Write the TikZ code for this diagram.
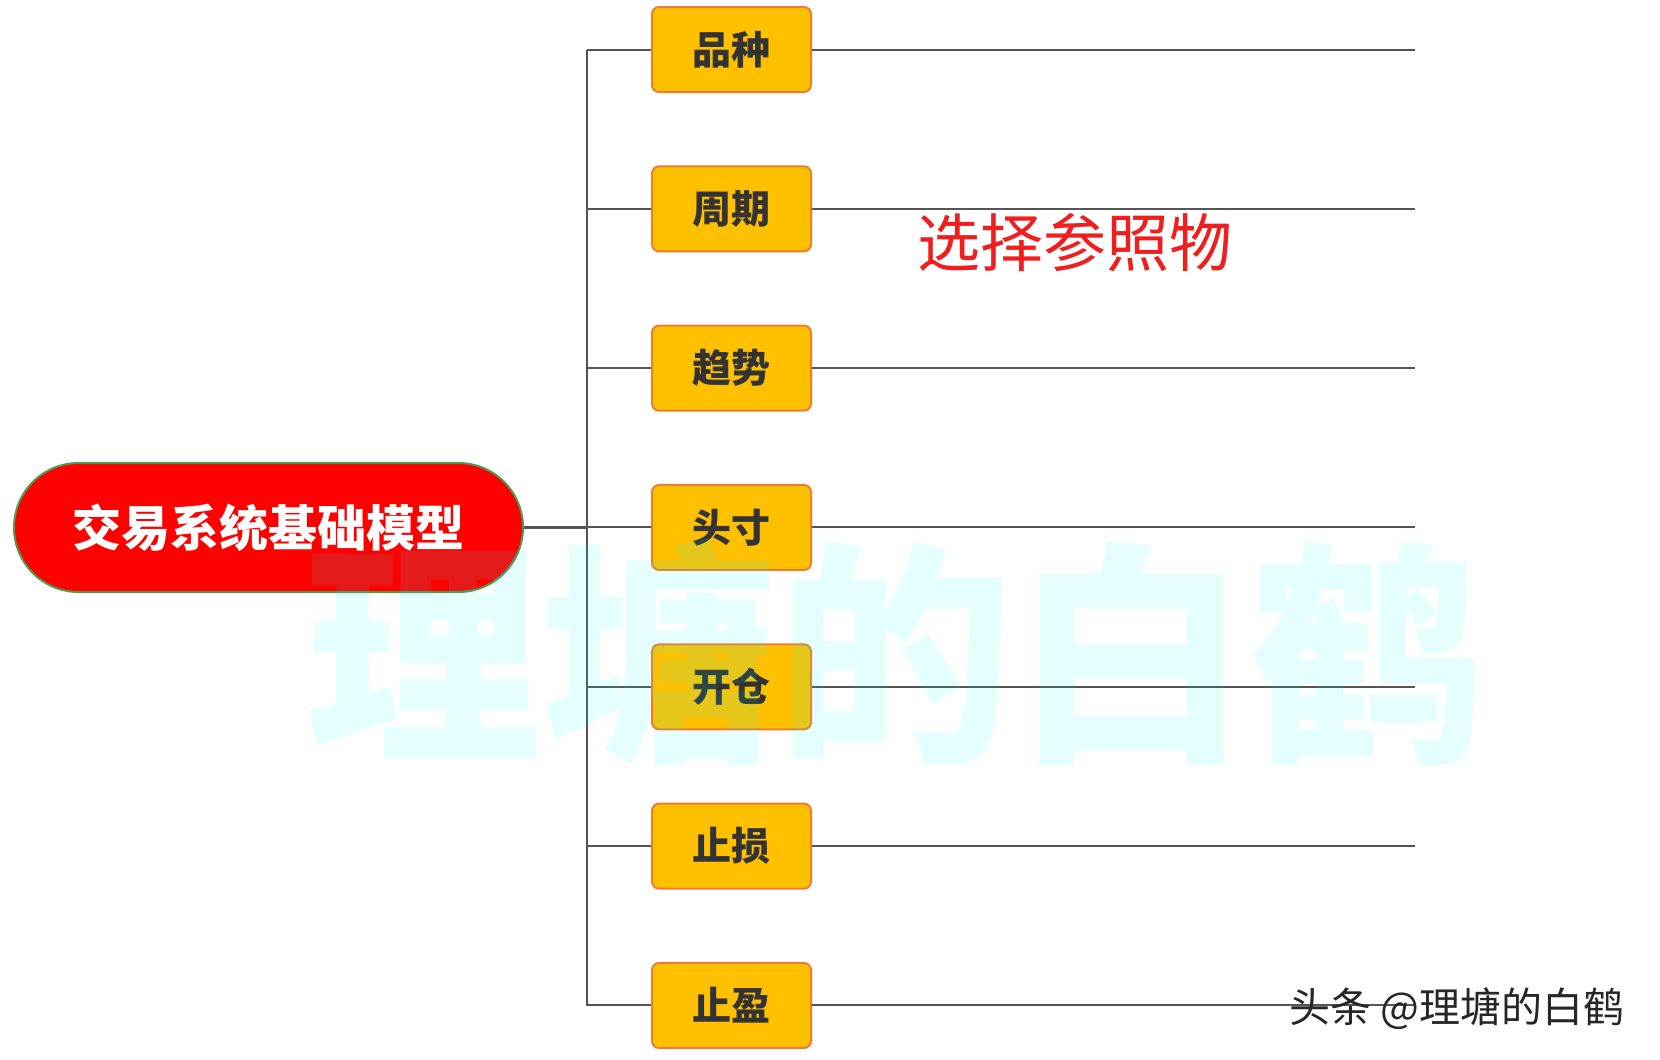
\documentclass[tikz,border=0pt]{standalone}
\usepackage{fontspec}
\newfontfamily\cjk{Noto Sans CJK SC}
\usetikzlibrary{shapes.misc}
\definecolor{boxfill}{RGB}{255,192,0}
\definecolor{boxline}{RGB}{237,125,49}
\definecolor{rootfill}{RGB}{255,0,0}
\definecolor{rootline}{RGB}{78,154,78}
\definecolor{linkc}{RGB}{85,85,85}
\definecolor{txtc}{RGB}{51,51,51}
\definecolor{redtxt}{RGB}{240,30,30}
\definecolor{wm}{RGB}{0,255,255}
\tikzset{
  px/.style={x=0.5pt,y=-0.5pt},
  stepbox/.style={draw=boxline, line width=1pt, fill=boxfill, rounded corners=3.5pt,
    minimum width=79.5pt, minimum height=42.5pt, inner sep=0pt,
    font=\cjk\bfseries\fontsize{19.5pt}{19.5pt}\selectfont, text=txtc},
  rootbox/.style={rounded rectangle, draw=rootline, line width=1pt, fill=rootfill,
    minimum width=254.5pt, minimum height=64.5pt, inner sep=0pt,
    font=\cjk\bfseries\fontsize{24.5pt}{24.5pt}\selectfont, text=white},
  link/.style={draw=linkc, line width=1pt},
  rootlink/.style={draw=linkc, line width=1.5pt},
}
\begin{document}
\begin{tikzpicture}[px]
\useasboundingbox (0,0) rectangle (1660,1060);
\fill[white] (0,0) rectangle (1660,1060);
% root
\node[rootbox] (root) at (268.5,527.5) {交易系统基础模型};
% trunk
\coordinate (t0) at (587,49.5);
\coordinate (t6) at (587,1005.5);
\coordinate (tm) at (587,527.5);
\draw[rootlink] (root.east) -- (tm);
\draw[link] (t0) -- (t6);
% branches
\foreach \i/\txt in {0/品种,1/周期,2/趋势,3/头寸,4/开仓,5/止损,6/止盈}{
  \pgfmathsetmacro{\yy}{49.5+159.33*\i}
  \node[stepbox] (b\i) at (731.5,\yy) {\txt};
  \coordinate (l\i) at (587,\yy);
  \coordinate (r\i) at (1415,\yy);
  \draw[link] (l\i) -- (b\i.west);
  \draw[link] (b\i.east) -- (r\i);
}
% red label
\node[font=\cjk\fontsize{31.5pt}{31.5pt}\selectfont, text=redtxt, inner sep=0pt] (lab) at (1075,243) {选择参照物};
% watermark
\node[font=\cjk\bfseries\fontsize{118pt}{118pt}\selectfont, text=wm, text opacity=0.1, inner sep=0pt] (wmk) at (895,652) {理塘的白鹤};
% corner mark
\node[font=\cjk\fontsize{20.5pt}{20.5pt}\selectfont, text=black!85, inner sep=0pt] (sig) at (1457,1009) {头条 @理塘的白鹤};
\end{tikzpicture}
\end{document}
